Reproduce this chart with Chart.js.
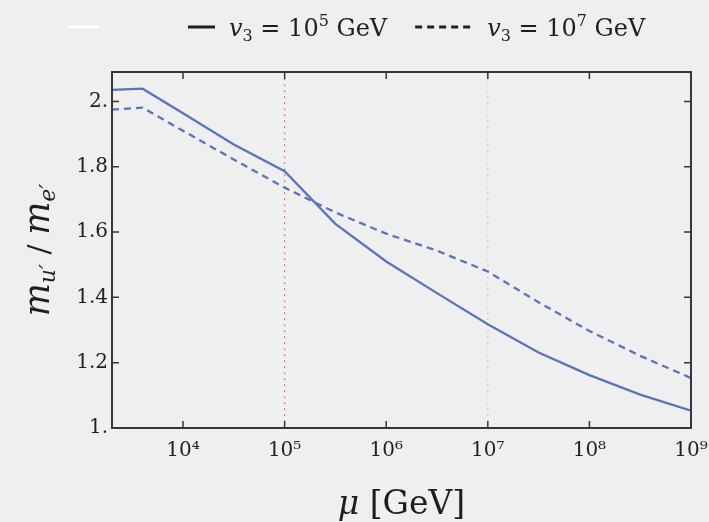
<!DOCTYPE html>
<html lang="en">
<head>
    <meta charset="UTF-8">
    <title>m_u'/m_e' running</title>
    <script src="https://cdn.jsdelivr.net/npm/chart.js"></script>
    <style>
        body { margin: 0; background: #efefef; }
        #wrap { width: 709px; height: 522px; }
    </style>
</head>
<body>
    <div id="wrap"><canvas id="ratioChart"></canvas></div>

    <script>
        // mu [GeV] sample points
        const muValues = [2000, 4000, 1e4, 3.16e4, 1e5, 3.16e5, 1e6, 3.16e6, 1e7, 3.16e7, 1e8, 3.16e8, 1e9];
        // v3 = 1e5 GeV (solid)
        const ratioV3e5 = [2.035, 2.039, 1.964, 1.868, 1.786, 1.625, 1.510, 1.413, 1.318, 1.231, 1.162, 1.102, 1.053];
        // v3 = 1e7 GeV (dashed)
        const ratioV3e7 = [1.975, 1.981, 1.910, 1.822, 1.736, 1.660, 1.595, 1.543, 1.479, 1.385, 1.297, 1.221, 1.153];
        // vertical markers at the two v3 scales
        const v3Scales = [1e5, 1e7];

        const xMin = 2000, xMax = 1e9;
        const yMin = 1.0, yMax = 2.09;
        const xTicks = [1e4, 1e5, 1e6, 1e7, 1e8, 1e9];
        const yTicks = [1.0, 1.2, 1.4, 1.6, 1.8, 2.0];
        const yTickLabels = ['1.', '1.2', '1.4', '1.6', '1.8', '2.'];

        const FONT = '"DejaVu Serif", "Liberation Serif", serif';
        const SUP = '⁰¹²³⁴⁵⁶⁷⁸⁹';
        const lineBlue = '#5a74bb';
        const markerColors = ['rgba(226, 80, 90, 0.95)', 'rgba(230, 160, 165, 0.8)'];

        function toPoints(ys) {
            return muValues.map((x, i) => ({ x: x, y: ys[i] }));
        }

        function runsWidth(ctx, runs) {
            let w = 0;
            runs.forEach(r => {
                ctx.font = (r.italic ? 'italic ' : '') + r.size + 'px ' + FONT;
                w += ctx.measureText(r.t).width;
            });
            return w;
        }

        function drawRuns(ctx, runs, x, y) {
            ctx.textBaseline = 'alphabetic';
            ctx.textAlign = 'left';
            runs.forEach(r => {
                ctx.font = (r.italic ? 'italic ' : '') + r.size + 'px ' + FONT;
                ctx.fillText(r.t, x, y + (r.dy || 0));
                x += ctx.measureText(r.t).width;
            });
            return x;
        }

        function v3Label(exp) {
            return [
                { t: 'v', size: 24, italic: true },
                { t: '3', size: 16, dy: 5 },
                { t: ' = 10', size: 24 },
                { t: exp, size: 16, dy: -10 },
                { t: ' GeV', size: 24 }
            ];
        }

        const framePlugin = {
            id: 'frame',
            afterDatasetsDraw(chart) {
                const ctx = chart.ctx;
                const a = chart.chartArea;
                const xs = chart.scales.x, ys = chart.scales.y;
                ctx.save();
                ctx.strokeStyle = '#363636';
                ctx.lineWidth = 1.5;
                ctx.beginPath();
                xTicks.forEach(v => {
                    const px = xs.getPixelForValue(v);
                    ctx.moveTo(px, a.bottom); ctx.lineTo(px, a.bottom - 7);
                    ctx.moveTo(px, a.top); ctx.lineTo(px, a.top + 7);
                });
                yTicks.forEach(v => {
                    const py = ys.getPixelForValue(v);
                    ctx.moveTo(a.left, py); ctx.lineTo(a.left + 7, py);
                    ctx.moveTo(a.right, py); ctx.lineTo(a.right - 7, py);
                });
                ctx.stroke();
                ctx.lineWidth = 2;
                ctx.strokeRect(a.left, a.top, a.right - a.left, a.bottom - a.top);
                ctx.restore();
            },
            afterDraw(chart) {
                const ctx = chart.ctx;
                const a = chart.chartArea;
                ctx.save();
                ctx.fillStyle = '#1e1e1e';

                // legend
                const ly = 27;
                ctx.lineWidth = 3;
                ctx.strokeStyle = '#ffffff';
                ctx.beginPath(); ctx.moveTo(68, ly); ctx.lineTo(99, ly); ctx.stroke();
                ctx.strokeStyle = '#1e1e1e';
                ctx.beginPath(); ctx.moveTo(188, ly); ctx.lineTo(215, ly); ctx.stroke();
                let x = drawRuns(ctx, v3Label('5'), 229, ly + 9);
                const d0 = x + 28;
                ctx.setLineDash([7, 5]);
                ctx.beginPath(); ctx.moveTo(d0, ly); ctx.lineTo(d0 + 56, ly); ctx.stroke();
                ctx.setLineDash([]);
                drawRuns(ctx, v3Label('7'), d0 + 72, ly + 9);

                // x title
                const xt = [
                    { t: 'μ', size: 33, italic: true },
                    { t: ' [GeV]', size: 33 }
                ];
                const cx = (a.left + a.right) / 2;
                drawRuns(ctx, xt, cx - runsWidth(ctx, xt) / 2, 514);

                // y title
                const yt = [
                    { t: 'm', size: 35, italic: true },
                    { t: 'u′', size: 22, italic: true, dy: 6 },
                    { t: ' / ', size: 30 },
                    { t: 'm', size: 35, italic: true },
                    { t: 'e′', size: 22, italic: true, dy: 6 }
                ];
                const cy = (a.top + a.bottom) / 2;
                ctx.translate(49, cy);
                ctx.rotate(-Math.PI / 2);
                drawRuns(ctx, yt, -runsWidth(ctx, yt) / 2, 0);
                ctx.restore();
            }
        };

        const datasets = [
            {
                label: 'v3 = 10^5 GeV',
                data: toPoints(ratioV3e5),
                borderColor: lineBlue,
                borderWidth: 2.3,
                pointRadius: 0,
                tension: 0
            },
            {
                label: 'v3 = 10^7 GeV',
                data: toPoints(ratioV3e7),
                borderColor: lineBlue,
                borderWidth: 2.3,
                borderDash: [7, 5],
                pointRadius: 0,
                tension: 0
            }
        ];
        v3Scales.forEach((v, i) => {
            datasets.push({
                label: 'marker ' + v,
                data: [{ x: v, y: yMin }, { x: v, y: yMax }],
                borderColor: markerColors[i],
                borderWidth: 1.2,
                borderDash: [1.5, 4.5],
                pointRadius: 0
            });
        });

        new Chart(document.getElementById('ratioChart'), {
            type: 'line',
            data: { datasets: datasets },
            options: {
                responsive: true,
                maintainAspectRatio: false,
                animation: false,
                layout: { padding: { top: 72, right: 18, left: 0, bottom: 0 } },
                plugins: { legend: { display: false }, tooltip: { enabled: false } },
                scales: {
                    x: {
                        type: 'logarithmic',
                        min: xMin,
                        max: xMax,
                        grid: { display: false, drawTicks: false },
                        border: { display: false },
                        afterBuildTicks: s => { s.ticks = xTicks.map(v => ({ value: v })); },
                        afterFit: s => { s.height = 94; s.paddingLeft = 0; s.paddingRight = 0; },
                        ticks: {
                            autoSkip: false,
                            maxRotation: 0,
                            padding: 11,
                            color: '#222',
                            font: { family: FONT, size: 20 },
                            callback: v => '10' + SUP[Math.round(Math.log10(v))]
                        }
                    },
                    y: {
                        min: yMin,
                        max: yMax,
                        grid: { display: false, drawTicks: false },
                        border: { display: false },
                        afterBuildTicks: s => { s.ticks = yTicks.map(v => ({ value: v })); },
                        afterFit: s => { s.width = 112; s.paddingTop = 0; s.paddingBottom = 0; },
                        ticks: {
                            padding: 4,
                            color: '#222',
                            font: { family: FONT, size: 20 },
                            callback: (v, i) => yTickLabels[i]
                        }
                    }
                }
            },
            plugins: [framePlugin]
        });
    </script>
</body>
</html>
